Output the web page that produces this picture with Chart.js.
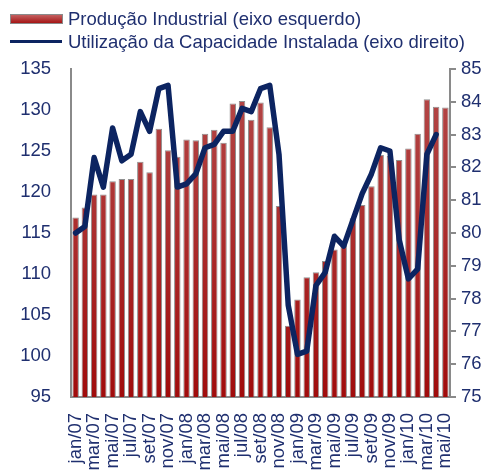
<!DOCTYPE html>
<html>
<head>
<meta charset="utf-8">
<script src="https://cdn.jsdelivr.net/npm/chart.js@4"></script>
<style>
  html, body { margin:0; padding:0; background:#fff; }
  #wrap { position:relative; width:493px; height:476px; }
  #legend { position:absolute; left:0; top:0; font-family:"Liberation Sans", Arial, sans-serif; font-size:18.5px; color:#1f2f6f; }
  .item { position:absolute; white-space:nowrap; line-height:21px; }
  .swatch-bar { position:absolute; width:51px; height:8px; background:linear-gradient(#c46060,#a51515); border:1px solid #8a8a8a; }
  .swatch-line { position:absolute; width:52px; height:3px; background:#0c2461; }
</style>
</head>
<body>
<div id="wrap">
  <canvas id="c" width="493" height="476"></canvas>
  <div id="legend">
    <div class="swatch-bar" style="left:10px;top:14px;"></div>
    <div class="item" style="left:68px;top:8px;">Produção Industrial (eixo esquerdo)</div>
    <div class="swatch-line" style="left:10px;top:40px;"></div>
    <div class="item" style="left:68px;top:31px;">Utilização da Capacidade Instalada (eixo direito)</div>
  </div>
</div>
<script>
const categories = [
  "jan/07","fev/07","mar/07","abr/07","mai/07","jun/07","jul/07","ago/07","set/07","out/07","nov/07","dez/07",
  "jan/08","fev/08","mar/08","abr/08","mai/08","jun/08","jul/08","ago/08","set/08","out/08","nov/08","dez/08",
  "jan/09","fev/09","mar/09","abr/09","mai/09","jun/09","jul/09","ago/09","set/09","out/09","nov/09","dez/09",
  "jan/10","fev/10","mar/10","abr/10","mai/10"
];
const producaoIndustrial = [
  116.9,118.1,119.7,119.7,121.3,121.6,121.6,123.7,122.4,127.7,125.1,124.3,
  126.4,126.3,127.1,127.6,126.0,130.8,131.1,128.8,130.9,127.9,118.3,103.7,
  106.9,109.6,110.2,111.6,113.0,113.8,116.8,118.4,120.7,124.5,124.4,123.9,
  125.3,127.1,131.3,130.4,130.3
];
const utilizacaoCapacidade = [
  80.0,80.2,82.3,81.4,83.2,82.2,82.4,83.7,83.1,84.4,84.5,81.4,
  81.5,81.8,82.6,82.7,83.1,83.1,83.8,83.7,84.4,84.5,82.4,77.8,
  76.3,76.4,78.4,78.8,79.9,79.6,80.4,81.2,81.8,82.6,82.5,79.8,
  78.6,78.9,82.4,83.0,null
];
const leftTicks = { min: 95, max: 135, step: 5 };
const rightTicks = { min: 75, max: 85, step: 1 };

const navy = '#1f2f6f';
const font = { family: '"Liberation Sans", Arial, sans-serif', size: 18.5 };

function barGradient(ctx) {
  const chart = ctx.chart;
  const area = chart.chartArea;
  if (!area) return '#a52020';
  const g = chart.ctx.createLinearGradient(0, area.top, 0, area.bottom);
  g.addColorStop(0, '#b44a4a');
  g.addColorStop(0.5, '#ab2d2d');
  g.addColorStop(1, '#a00c0c');
  return g;
}

new Chart(document.getElementById('c'), {
  data: {
    labels: categories,
    datasets: [
      {
        type: 'line',
        label: 'Utilização da Capacidade Instalada (eixo direito)',
        data: utilizacaoCapacidade,
        yAxisID: 'y2',
        borderColor: '#0c2461',
        borderWidth: 5.5,
        pointRadius: 0,
        tension: 0,
        borderJoinStyle: 'round',
        borderCapStyle: 'round',
        order: 1
      },
      {
        type: 'bar',
        label: 'Produção Industrial (eixo esquerdo)',
        data: producaoIndustrial,
        yAxisID: 'y',
        backgroundColor: barGradient,
        borderColor: 'rgba(125,125,125,0.85)',
        borderWidth: 1,
        categoryPercentage: 1,
        barPercentage: 0.7,
        base: 95,
        order: 2
      }
    ]
  },
  options: {
    responsive: false,
    animation: false,
    layout: { padding: { top: 69, left: 0, right: 0, bottom: 0 } },
    plugins: { legend: { display: false }, tooltip: { enabled: false } },
    scales: {
      x: {
        grid: { display: false },
        border: { display: true, color: '#8a8a8a', width: 2 },
        ticks: {
          autoSkip: false,
          maxRotation: 90,
          minRotation: 90,
          padding: 8,
          color: navy,
          font: font,
          callback: function(v, i) { return i % 2 === 0 ? categories[i] : ''; }
        },
        afterFit: function(s) { s.height = 79; }
      },
      y: {
        position: 'left',
        min: leftTicks.min, max: leftTicks.max,
        grid: { display: false },
        border: { display: true, color: '#8a8a8a', width: 2 },
        ticks: { stepSize: leftTicks.step, color: navy, font: font, padding: 12 },
        afterFit: function(s) { s.width = 71; }
      },
      y2: {
        position: 'right',
        min: rightTicks.min, max: rightTicks.max,
        grid: { display: true, drawOnChartArea: false, drawTicks: true, tickLength: 6, color: '#8a8a8a', lineWidth: 2 },
        border: { display: true, color: '#8a8a8a', width: 2 },
        ticks: { stepSize: rightTicks.step, color: navy, font: font, padding: 5 },
        afterFit: function(s) { s.width = 43; }
      }
    }
  }
});
</script>
</body>
</html>
